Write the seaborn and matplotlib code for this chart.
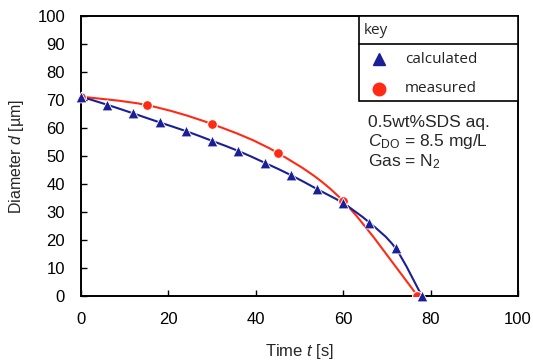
import seaborn as sns
import matplotlib.pyplot as plt
from matplotlib.path import Path
from matplotlib.patches import PathPatch, Rectangle
from matplotlib.lines import Line2D
import pandas as pd

# calculated series
calc_t = [0, 6, 12, 18, 24, 30, 36, 42, 48, 54, 60, 66, 72, 78]
calc_d = [71.2, 68.3, 65.2, 62.0, 58.9, 55.4, 51.8, 47.6, 43.2, 38.2, 33.1, 26.2, 17.0, 0.0]

# measured series
meas_t = [0, 15, 30, 45, 60, 77]
meas_d = [71.2, 68.2, 61.4, 51.1, 33.9, 0.1]

x_ticks = [0, 20, 40, 60, 80, 100]
y_ticks = list(range(0, 101, 10))

BLUE = "#1a1f96"
RED = "#ff2a14"


def smooth_path(xs, ys, tension=1 / 6):
    # Excel-style smoothed line: Catmull-Rom segments as cubic Bezier curves
    pts = list(zip(xs, ys))
    verts = [pts[0]]
    codes = [Path.MOVETO]
    for i in range(len(pts) - 1):
        p0 = pts[i - 1] if i > 0 else pts[i]
        p1 = pts[i]
        p2 = pts[i + 1]
        p3 = pts[i + 2] if i + 2 < len(pts) else pts[i + 1]
        c1 = (p1[0] + (p2[0] - p0[0]) * tension, p1[1] + (p2[1] - p0[1]) * tension)
        c2 = (p2[0] - (p3[0] - p1[0]) * tension, p2[1] - (p3[1] - p1[1]) * tension)
        verts += [c1, c2, p2]
        codes += [Path.CURVE4] * 3
    return Path(verts, codes)


sns.set_style("ticks")
plt.rcParams["font.family"] = ["Liberation Sans", "DejaVu Sans"]
plt.rcParams["mathtext.fontset"] = "custom"
plt.rcParams["mathtext.rm"] = "Liberation Sans"
plt.rcParams["mathtext.it"] = "Liberation Sans:italic"

fig = plt.figure(figsize=(5.33, 3.62), dpi=100)
ax = fig.add_axes([81 / 533, 1 - 296 / 362, 437 / 533, 280 / 362])

ax.add_patch(PathPatch(smooth_path(meas_t, meas_d), facecolor="none",
                       edgecolor=RED, lw=1.5, zorder=2))
ax.add_patch(PathPatch(smooth_path(calc_t, calc_d), facecolor="none",
                       edgecolor=BLUE, lw=1.5, zorder=2))

meas = pd.DataFrame({"t": meas_t, "d": meas_d})
calc = pd.DataFrame({"t": calc_t, "d": calc_d})
sns.scatterplot(data=meas, x="t", y="d", ax=ax, marker="o", s=50,
                color=RED, edgecolor="white", linewidth=0.8, zorder=3)
sns.scatterplot(data=calc, x="t", y="d", ax=ax, marker="^", s=60,
                color=BLUE, edgecolor="white", linewidth=0.6, zorder=4,
                clip_on=False)

ax.set_xlim(0, 100)
ax.set_ylim(0, 100)
ax.set_xticks(x_ticks)
ax.set_yticks(y_ticks)
ax.tick_params(direction="in", length=4, width=1, labelsize=12, pad=11.5,
               colors="black")
for s in ax.spines.values():
    s.set_linewidth(1.4)
    s.set_color("black")

ax.set_xlabel("Time $t$ [s]", fontsize=12, labelpad=11)
ax.set_ylabel("Diameter $d$ [µm]", fontsize=11.5, labelpad=8)

# hand-made legend box with "key" header
lx0, ly0 = 0.636, 0.696
ax.add_patch(Rectangle((lx0, ly0), 1 - lx0, 1 - ly0, transform=ax.transAxes,
                       facecolor="white", edgecolor="black", lw=1.2, zorder=5))
ax.add_line(Line2D([lx0, 1], [0.9, 0.9], transform=ax.transAxes,
                   color="black", lw=1.2, zorder=6))
key_font = ["Open Sans", "DejaVu Sans"]
ax.text(lx0 + 0.012, 0.95, "key", transform=ax.transAxes, va="center",
        fontsize=11, family=key_font, zorder=7)
ax.plot([0.683], [0.845], marker="^", ms=8.5, color=BLUE, ls="none",
        transform=ax.transAxes, zorder=7)
ax.plot([0.683], [0.74], marker="o", ms=9, color=RED, ls="none",
        transform=ax.transAxes, zorder=7)
ax.text(0.741, 0.845, "calculated", transform=ax.transAxes, va="center",
        fontsize=11, family=key_font, color="#222222", zorder=7)
ax.text(0.741, 0.74, "measured", transform=ax.transAxes, va="center",
        fontsize=11, family=key_font, color="#222222", zorder=7)

ax.text(0.657, 0.605, "0.5wt%SDS aq.", transform=ax.transAxes,
        va="baseline", fontsize=12.5)
ax.text(0.657, 0.536, "$C_{\\mathrm{DO}}$ = 8.5 mg/L", transform=ax.transAxes,
        va="baseline", fontsize=12.5)
ax.text(0.657, 0.462, "Gas = N$_2$", transform=ax.transAxes,
        va="baseline", fontsize=12.5)

fig.savefig("out.png", dpi=100)
